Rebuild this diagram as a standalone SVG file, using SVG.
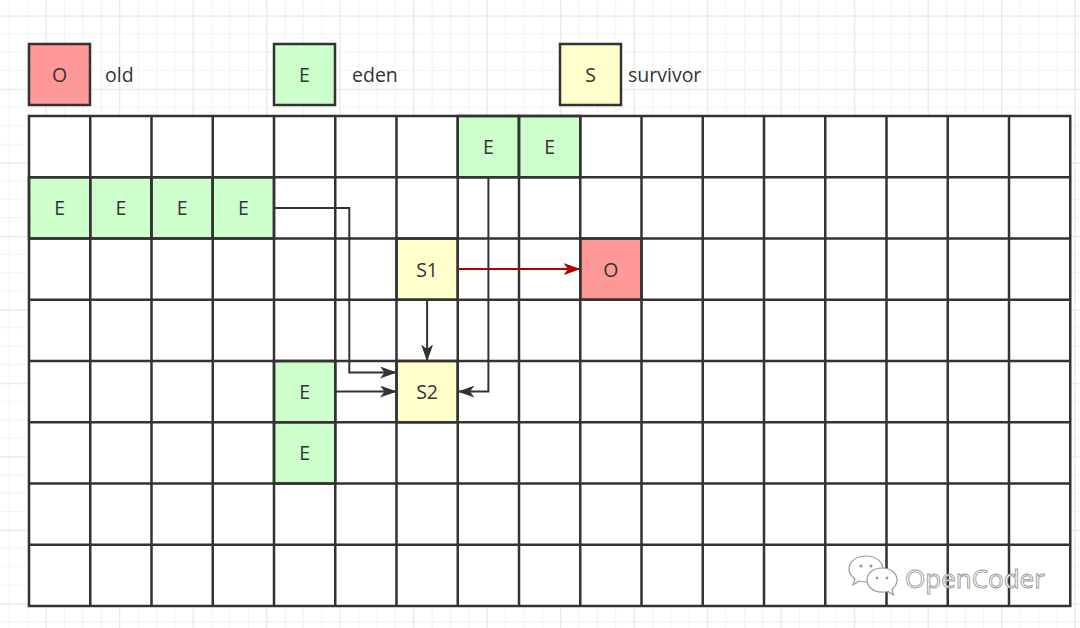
<svg xmlns="http://www.w3.org/2000/svg" width="1080" height="628" viewBox="0 0 1080 628">
<defs>
<pattern id="bgMinor" patternUnits="userSpaceOnUse" x="9" y="15" width="18.375" height="18.375">
<path d="M0,0 V18.375 M0,0 H18.375" fill="none" stroke="#efefef" stroke-width="1.5"/>
</pattern>
<pattern id="bgMajor" patternUnits="userSpaceOnUse" x="-27.8" y="-57.7" width="73.5" height="73.5">
<path d="M0,0 V73.5 M0,0 H73.5" fill="none" stroke="#e4e4e4" stroke-width="1.5"/>
</pattern>
<marker id="arrDark" markerUnits="userSpaceOnUse" viewBox="0 0 17 12" refX="16" refY="6" markerWidth="17" markerHeight="12" orient="auto">
<path d="M0,0 L17,6 L0,12 L4.5,6 Z" fill="#333333"/>
</marker>
<marker id="arrRed" markerUnits="userSpaceOnUse" viewBox="0 0 17 12" refX="16" refY="6" markerWidth="17" markerHeight="12" orient="auto">
<path d="M0,0 L17,6 L0,12 L4.5,6 Z" fill="#b20000"/>
</marker>
</defs>
<style>
.lbl{font-family:"Open Sans","Liberation Sans",sans-serif;font-size:19.5px;fill:#333333}
.c{text-anchor:middle;dominant-baseline:central}
.cell{stroke:#333333;stroke-width:2.5}
.eden{fill:#ccffcc}
.surv{fill:#ffffcc}
.old{fill:#ff9999}
.grid{stroke:#333333;stroke-width:2.5;fill:none}
.conn{fill:none;stroke:#333333;stroke-width:2}
.connRed{fill:none;stroke:#b20000;stroke-width:2}
.wm{font-family:"Open Sans","Liberation Sans",sans-serif;font-size:26px;fill:#ffffff;stroke:#9a9a9a;stroke-width:0.9}
</style>
<rect width="1080" height="628" fill="#ffffff"/>
<rect width="1080" height="628" fill="url(#bgMinor)"/>
<rect width="1080" height="628" fill="url(#bgMajor)"/>

<g id="legend-old">
<rect class="cell old" x="29" y="44" width="61" height="61"/>
<text class="lbl c" x="59.5" y="74.5">O</text>
<text class="lbl" x="105" y="74.5" dominant-baseline="central">old</text>
</g>
<g id="legend-eden">
<rect class="cell eden" x="274" y="44" width="61" height="61"/>
<text class="lbl c" x="304.5" y="74.5">E</text>
<text class="lbl" x="352" y="74.5" dominant-baseline="central">eden</text>
</g>
<g id="legend-survivor">
<rect class="cell surv" x="560" y="44" width="61" height="61"/>
<text class="lbl c" x="590.5" y="74.5">S</text>
<text class="lbl" x="628" y="74.5" dominant-baseline="central">survivor</text>
</g>

<rect x="29" y="116" width="1041.25" height="490" fill="#ffffff"/>

<g id="e-r0c7"><rect class="cell eden" x="457.75" y="116" width="61.25" height="61.25"/><text class="lbl c" x="488.4" y="146.6">E</text></g>
<g id="e-r0c8"><rect class="cell eden" x="519" y="116" width="61.25" height="61.25"/><text class="lbl c" x="549.6" y="146.6">E</text></g>
<g id="e-r1c0"><rect class="cell eden" x="29" y="177.25" width="61.25" height="61.25"/><text class="lbl c" x="59.6" y="207.9">E</text></g>
<g id="e-r1c1"><rect class="cell eden" x="90.25" y="177.25" width="61.25" height="61.25"/><text class="lbl c" x="120.9" y="207.9">E</text></g>
<g id="e-r1c2"><rect class="cell eden" x="151.5" y="177.25" width="61.25" height="61.25"/><text class="lbl c" x="182.1" y="207.9">E</text></g>
<g id="e-r1c3"><rect class="cell eden" x="212.75" y="177.25" width="61.25" height="61.25"/><text class="lbl c" x="243.4" y="207.9">E</text></g>
<g id="s1"><rect class="cell surv" x="396.5" y="238.5" width="61.25" height="61.25"/><text class="lbl c" x="427.1" y="269.1">S1</text></g>
<g id="old-r2c9"><rect class="cell old" x="580.25" y="238.5" width="61.25" height="61.25"/><text class="lbl c" x="610.9" y="269.1">O</text></g>
<g id="e-r4c4"><rect class="cell eden" x="274" y="361" width="61.25" height="61.25"/><text class="lbl c" x="304.6" y="391.6">E</text></g>
<g id="s2"><rect class="cell surv" x="396.5" y="361" width="61.25" height="61.25"/><text class="lbl c" x="427.1" y="391.6">S2</text></g>
<g id="e-r5c4"><rect class="cell eden" x="274" y="422.25" width="61.25" height="61.25"/><text class="lbl c" x="304.6" y="452.9">E</text></g>

<g id="grid" class="grid">
<rect x="29" y="116" width="1041.25" height="490"/>
<path d="M90.25,116V606 M151.5,116V606 M212.75,116V606 M274,116V606 M335.25,116V606 M396.5,116V606 M457.75,116V606 M519,116V606 M580.25,116V606 M641.5,116V606 M702.75,116V606 M764,116V606 M825.25,116V606 M886.5,116V606 M947.75,116V606 M1009,116V606"/>
<path d="M29,177.25H1070.25 M29,238.5H1070.25 M29,299.75H1070.25 M29,361H1070.25 M29,422.25H1070.25 M29,483.5H1070.25 M29,544.75H1070.25"/>
</g>

<g id="connectors">
<path class="conn" d="M274,208 H349.3 V372.5 H396" marker-end="url(#arrDark)"/>
<path class="conn" d="M335.25,391.6 H396" marker-end="url(#arrDark)"/>
<path class="conn" d="M427.1,299.75 V360.5" marker-end="url(#arrDark)"/>
<path class="connRed" d="M457.75,269.1 H579.5" marker-end="url(#arrRed)"/>
<path class="conn" d="M488.4,177.25 V391.6 H458.5" marker-end="url(#arrDark)"/>
</g>

<g id="watermark">
<g fill="#ffffff" stroke="#9a9a9a" stroke-width="1.2">
<path d="M866,556 C876,556 883,562 883,569 C883,576 876,582 866,582 C863,582 861,581.5 859,581 L853,585 L855,579 C851,576 849,573 849,569 C849,562 856,556 866,556 Z"/>
<path d="M882,568 C891,568 897,573.5 897,580 C897,584 895,587 892,589.5 L893.5,595 L888,591.5 C886,592 884,592.2 882,592.2 C873,592.2 867,586.5 867,580 C867,573.5 873,568 882,568 Z"/>
</g>
<g fill="#9a9a9a">
<circle cx="861" cy="566" r="1.6"/><circle cx="871" cy="566" r="1.6"/>
<circle cx="877" cy="578" r="1.4"/><circle cx="887" cy="578" r="1.4"/>
</g>
<text class="wm" x="905" y="588">OpenCoder</text>
</g>
</svg>
